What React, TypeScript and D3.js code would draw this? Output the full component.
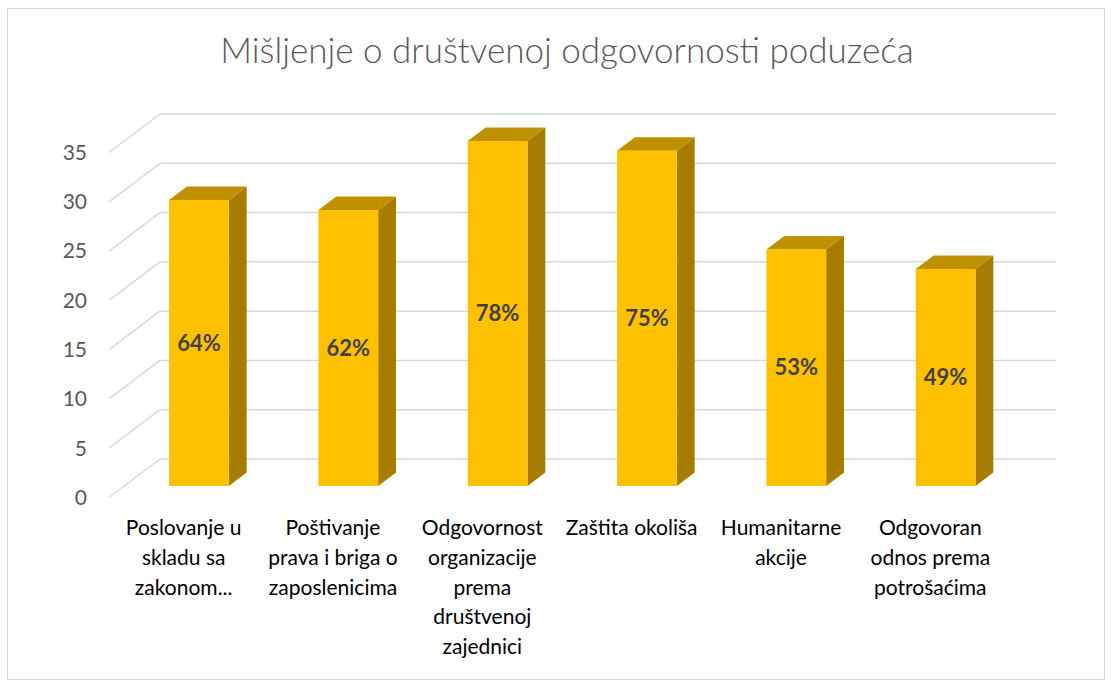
import React from "react";
import * as d3 from "d3";

const categories: string[][] = [
  ["Poslovanje u", "skladu sa", "zakonom..."],
  ["Poštivanje", "prava i briga o", "zaposlenicima"],
  ["Odgovornost", "organizacije", "prema", "društvenoj", "zajednici"],
  ["Zaštita okoliša"],
  ["Humanitarne", "akcije"],
  ["Odgovoran", "odnos prema", "potrošaćima"],
];
const values: number[] = [29, 28, 35, 34, 24, 22];
const percentLabels: string[] = ["64%", "62%", "78%", "75%", "53%", "49%"];
const yTicks: number[] = [0, 5, 10, 15, 20, 25, 30, 35];
const title = "Mišljenje o društvenoj odgovornosti poduzeća";

const W = 1112;
const H = 682;
const FONT = "Lato, 'Open Sans', sans-serif";

// oblique 3D projection: z=0 back wall, z=1 front edge
const DX = -51;
const DY = 38.5;
const backLeft = 160;
const backRight = 1056;
const y = d3.scaleLinear().domain([0, 35]).range([459, 114]);
const x = d3
  .scaleBand<number>()
  .domain(d3.range(categories.length))
  .range([backLeft, backRight])
  .padding(0);

const proj = (px: number, v: number, z: number): [number, number] => [
  px + DX * z,
  y(v) + DY * z,
];

const zFront = 0.7;
const zBack = 0.35;
const barFrac = 0.4;

const poly = (pts: [number, number][]) =>
  pts.map((p) => p.join(",")).join(" ");

export default function App() {
  return (
    <svg width={W} height={H} style={{ position: "absolute", left: 0, top: 0 }}>
      <rect x={0} y={0} width={W} height={H} fill="#fff" />
      <rect x={7.5} y={8.5} width={1097} height={671} fill="#fff" stroke="#d9d9d9" strokeWidth={1} />
      <text
        x={567}
        y={63}
        textAnchor="middle"
        fontFamily={FONT}
        fontSize={35}
        fontWeight={300}
        fill="#595959"
      >
        {title}
      </text>
      {/* grid */}
      {yTicks.map((t) => {
        const [fx, fy] = proj(backLeft, t, 1);
        return (
          <g key={t}>
            <line x1={backLeft} x2={backRight} y1={y(t)} y2={y(t)} stroke="#d9d9d9" strokeWidth={1.5} />
            <line x1={fx} y1={fy} x2={backLeft} y2={y(t)} stroke="#d9d9d9" strokeWidth={1.5} />
            <text
              x={87}
              y={fy}
              dy="0.35em"
              textAnchor="end"
              fontFamily={FONT}
              fontSize={21}
              fill="#595959"
            >
              {t}
            </text>
          </g>
        );
      })}
      {/* bars */}
      {values.map((v, i) => {
        const bw = x.bandwidth() * barFrac;
        const cx = (x(i) as number) + x.bandwidth() / 2;
        const l = cx - bw / 2;
        const r = cx + bw / 2;
        const fbl = proj(l, 0, zFront);
        const fbr = proj(r, 0, zFront);
        const ftl = proj(l, v, zFront);
        const ftr = proj(r, v, zFront);
        const btl = proj(l, v, zBack);
        const btr = proj(r, v, zBack);
        const bbr = proj(r, 0, zBack);
        return (
          <g key={i}>
            <polygon points={poly([fbr, ftr, btr, bbr])} fill="#A67D00" />
            <polygon points={poly([ftl, ftr, btr, btl])} fill="#BF9000" />
            <polygon points={poly([fbl, fbr, ftr, ftl])} fill="#FFC000" />
            <text
              x={(fbl[0] + fbr[0]) / 2}
              y={(fbl[1] + ftl[1]) / 2}
              dy="0.35em"
              textAnchor="middle"
              fontFamily={FONT}
              fontWeight={700}
              fontSize={22}
              fill="#404040"
            >
              {percentLabels[i]}
            </text>
          </g>
        );
      })}
      {/* category labels */}
      {categories.map((lines, i) => {
        const cx = (x(i) as number) + x.bandwidth() / 2 + DX;
        return (
          <text
            key={i}
            textAnchor="middle"
            fontFamily={FONT}
            fontSize={21}
            fill="#000"
          >
            {lines.map((ln, j) => (
              <tspan key={j} x={cx} y={528 + j * 29.6} dy="0.35em">
                {ln}
              </tspan>
            ))}
          </text>
        );
      })}
    </svg>
  );
}
